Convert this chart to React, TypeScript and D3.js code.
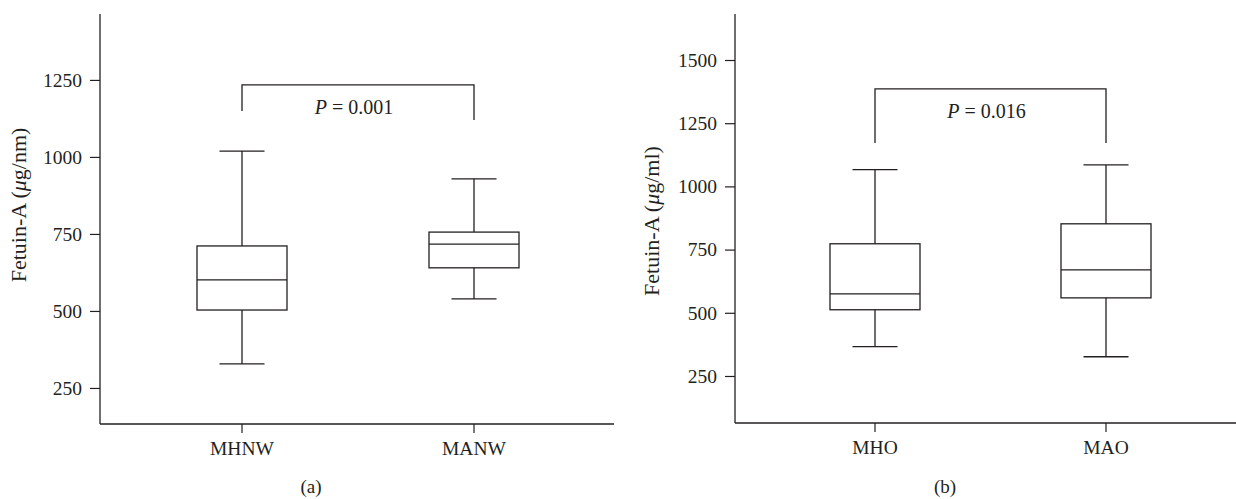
import React, { useEffect, useRef } from 'react';
import * as d3 from 'd3';

// panel (a)
const catsA = ['MHNW', 'MANW'];
const minA = [328, 539];
const q1A = [503, 640];
const medA = [601, 717];
const q3A = [711, 756];
const maxA = [1019, 929];
const ticksA = [250, 500, 750, 1000, 1250];
const bracketA = { top: 1234, ends: [1149, 1120], label: '0.001' };

// panel (b)
const catsB = ['MHO', 'MAO'];
const minB = [366, 326];
const q1B = [512, 559];
const medB = [575, 670];
const q3B = [773, 852];
const maxB = [1066, 1085];
const ticksB = [250, 500, 750, 1000, 1250, 1500];
const bracketB = { top: 1386, ends: [1172, 1172], label: '0.016' };

const INK = '#231f20';
const FONT = '"Liberation Serif", "DejaVu Serif", serif';

const panels = [
  {
    cats: catsA, min: minA, q1: q1A, med: medA, q3: q3A, max: maxA,
    ticks: ticksA, bracket: bracketA,
    domain: [133, 1464], yRange: [424, 14],
    axisX: [100, 614], pts: [242, 474],
    yTitle: 'nm', titleX: 21, titleY: 205, titleSize: 22,
    tag: '(a)', tagX: 311, tagY: 493,
  },
  {
    cats: catsB, min: minB, q1: q1B, med: medB, q3: q3B, max: maxB,
    ticks: ticksB, bracket: bracketB,
    domain: [64, 1682], yRange: [423, 14],
    axisX: [735, 1236], pts: [875, 1106],
    yTitle: 'ml', titleX: 654, titleY: 221, titleSize: 22,
    tag: '(b)', tagX: 945, tagY: 493,
  },
];

const BoxPanels = ({ width, height }) => {
  const svgRef = useRef(null);

  useEffect(() => {
    const svg = d3.select(svgRef.current);
    svg.selectAll('*').remove();

    panels.forEach((p) => {
      const g = svg.append('g');
      const y = d3.scaleLinear().domain(p.domain).range(p.yRange);
      const x = d3.scalePoint().domain(p.cats).range(p.pts).padding(0);
      const x0 = p.axisX[0];
      const yBottom = p.yRange[0];

      // y axis
      const yAxis = g.append('g')
        .attr('transform', `translate(${x0},0)`)
        .attr('font-family', FONT)
        .call(d3.axisLeft(y).tickValues(p.ticks).tickSize(10).tickPadding(8).tickFormat(d3.format('d')));
      yAxis.attr('font-family', FONT);
      yAxis.select('.domain').remove();
      yAxis.selectAll('line').attr('stroke', INK).attr('stroke-width', 1.2);
      yAxis.selectAll('text')
        .attr('fill', INK)
        .style('font-family', FONT)
        .style('font-size', '19.5px');

      g.append('line')
        .attr('x1', x0).attr('x2', x0)
        .attr('y1', p.yRange[1]).attr('y2', yBottom)
        .attr('stroke', INK).attr('stroke-width', 1.3);

      // x axis
      g.append('line')
        .attr('x1', x0).attr('x2', p.axisX[1])
        .attr('y1', yBottom).attr('y2', yBottom)
        .attr('stroke', INK).attr('stroke-width', 1.3);

      p.cats.forEach((c) => {
        g.append('line')
          .attr('x1', x(c)).attr('x2', x(c))
          .attr('y1', yBottom).attr('y2', yBottom + 9)
          .attr('stroke', INK).attr('stroke-width', 1.2);
        g.append('text')
          .attr('x', x(c)).attr('y', yBottom + 31)
          .attr('text-anchor', 'middle')
          .attr('fill', INK)
          .style('font-family', FONT)
          .style('font-size', '19.5px')
          .text(c);
      });

      // y title
      const t = g.append('text')
        .attr('transform', `translate(${p.titleX},${p.titleY}) rotate(-90)`)
        .attr('text-anchor', 'middle')
        .attr('dominant-baseline', 'middle')
        .attr('fill', INK)
        .style('font-family', FONT)
        .style('font-size', p.titleSize + 'px');
      t.append('tspan').text('Fetuin-A (');
      t.append('tspan').style('font-style', 'italic').text('μ');
      t.append('tspan').text(`g/${p.yTitle})`);

      // boxes
      const boxW = 90;
      const capW = 45;
      p.cats.forEach((c, i) => {
        const cx = x(c);
        const bg = g.append('g')
          .attr('stroke', INK).attr('stroke-width', 1.3).attr('fill', 'none');
        bg.append('line')
          .attr('x1', cx).attr('x2', cx)
          .attr('y1', y(p.max[i])).attr('y2', y(p.q3[i]));
        bg.append('line')
          .attr('x1', cx).attr('x2', cx)
          .attr('y1', y(p.q1[i])).attr('y2', y(p.min[i]));
        bg.append('line')
          .attr('x1', cx - capW / 2).attr('x2', cx + capW / 2)
          .attr('y1', y(p.max[i])).attr('y2', y(p.max[i]));
        bg.append('line')
          .attr('x1', cx - capW / 2).attr('x2', cx + capW / 2)
          .attr('y1', y(p.min[i])).attr('y2', y(p.min[i]));
        bg.append('rect')
          .attr('x', cx - boxW / 2).attr('width', boxW)
          .attr('y', y(p.q3[i])).attr('height', y(p.q1[i]) - y(p.q3[i]));
        bg.append('line')
          .attr('x1', cx - boxW / 2).attr('x2', cx + boxW / 2)
          .attr('y1', y(p.med[i])).attr('y2', y(p.med[i]));
      });

      // significance bracket
      const b = p.bracket;
      const xa = x(p.cats[0]);
      const xb = x(p.cats[1]);
      g.append('path')
        .attr('d', d3.line()([
          [xa, y(b.ends[0])], [xa, y(b.top)], [xb, y(b.top)], [xb, y(b.ends[1])],
        ]))
        .attr('fill', 'none').attr('stroke', INK).attr('stroke-width', 1.3);
      const pt = g.append('text')
        .attr('x', (xa + xb) / 2 - 4).attr('y', y(b.top) + 29)
        .attr('text-anchor', 'middle')
        .attr('fill', INK)
        .style('font-family', FONT)
        .style('font-size', '20px');
      pt.append('tspan').style('font-style', 'italic').text('P');
      pt.append('tspan').text(` = ${b.label}`);

      // panel tag
      g.append('text')
        .attr('x', p.tagX).attr('y', p.tagY)
        .attr('text-anchor', 'middle')
        .attr('fill', INK)
        .style('font-family', FONT)
        .style('font-size', '19px')
        .text(p.tag);
    });
  }, [width, height]);

  return (
    <svg ref={svgRef} width={width} height={height}
      style={{ position: 'absolute', left: 0, top: 0, background: '#fff' }}></svg>
  );
};

export default function App() {
  return <BoxPanels width={1236} height={499} />;
}
